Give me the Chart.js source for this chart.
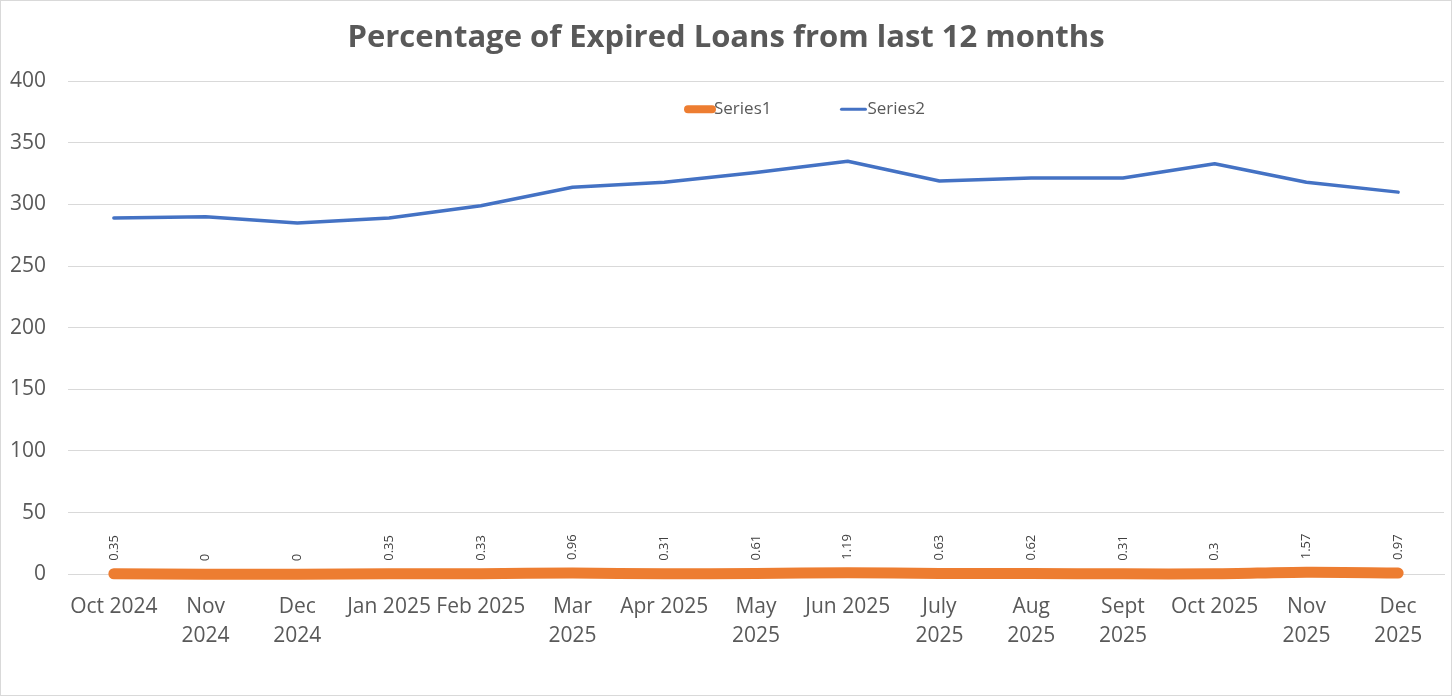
<!DOCTYPE html>
<html>
<head>
<meta charset="utf-8">
<script src="https://cdn.jsdelivr.net/npm/chart.js@4.4.1/dist/chart.umd.min.js"></script>
<style>
  html, body { margin: 0; padding: 0; background: #ffffff; }
  #contenedor { width: 1452px; height: 696px; }
</style>
</head>
<body>
<div id="contenedor"><canvas id="grafico1" width="1452" height="696"></canvas></div>
<script>
// datos
const meses = ['Oct 2024', ['Nov', '2024'], ['Dec', '2024'], 'Jan 2025', 'Feb 2025', ['Mar', '2025'], 'Apr 2025',
    ['May', '2025'], 'Jun 2025', ['July', '2025'], ['Aug', '2025'], ['Sept', '2025'], 'Oct 2025', ['Nov', '2025'], ['Dec', '2025']];
const serie1 = [0.35, 0, 0, 0.35, 0.33, 0.96, 0.31, 0.61, 1.19, 0.63, 0.62, 0.31, 0.3, 1.57, 0.97];
const serie2 = [289, 290, 285, 289, 299, 314, 318, 326, 335, 319, 321.5, 321.5, 333, 318, 310];
const ticksY = [0, 50, 100, 150, 200, 250, 300, 350, 400];

const fuente = "'Open Sans', 'Liberation Sans', sans-serif";
const gris = '#595959';

// marco gris alrededor
const marco = {
    id: 'marco',
    beforeDraw(chart) {
        const ctx = chart.ctx;
        ctx.save();
        ctx.fillStyle = '#ffffff';
        ctx.fillRect(0, 0, chart.width, chart.height);
        ctx.strokeStyle = '#d9d9d9';
        ctx.lineWidth = 1;
        ctx.strokeRect(0.5, 0.5, chart.width - 1, chart.height - 1);
        ctx.restore();
    }
};

// etiquetas verticales de la serie 1
const etiquetas = {
    id: 'etiquetas',
    afterDatasetsDraw(chart) {
        const ctx = chart.ctx;
        const meta = chart.getDatasetMeta(0);
        ctx.save();
        ctx.font = '13px ' + fuente;
        ctx.fillStyle = '#404040';
        ctx.textAlign = 'left';
        ctx.textBaseline = 'middle';
        meta.data.forEach((p, i) => {
            ctx.save();
            ctx.translate(p.x, p.y - 13);
            ctx.rotate(-Math.PI / 2);
            ctx.fillText(String(serie1[i]), 0, 0);
            ctx.restore();
        });
        ctx.restore();
    }
};

// leyenda dentro del area del grafico
const leyenda = {
    id: 'leyenda',
    afterDraw(chart) {
        const ctx = chart.ctx;
        const area = chart.chartArea;
        ctx.save();
        ctx.font = '17px ' + fuente;
        ctx.textBaseline = 'middle';
        ctx.textAlign = 'left';
        const y = area.top + 28;
        let x = area.left + 616;
        chart.data.datasets.forEach((ds) => {
            ctx.strokeStyle = ds.borderColor;
            ctx.lineWidth = ds.id === 's1' ? 8 : 3;
            ctx.lineCap = 'round';
            ctx.beginPath();
            ctx.moveTo(x + 4, y);
            ctx.lineTo(x + 28, y);
            ctx.stroke();
            ctx.fillStyle = gris;
            ctx.fillText(ds.label, x + 30, y);
            x += 30 + ctx.measureText(ds.label).width + 66;
        });
        ctx.restore();
    }
};

new Chart(document.getElementById('grafico1').getContext('2d'), {
    type: 'line',
    data: {
        labels: meses,
        datasets: [{
            id: 's1',
            label: 'Series1',
            data: serie1,
            borderColor: '#ED7D31',
            backgroundColor: '#ED7D31',
            borderWidth: 11,
            borderCapStyle: 'round',
            borderJoinStyle: 'round',
            pointRadius: 0,
            tension: 0.3,
            clip: false
        }, {
            id: 's2',
            label: 'Series2',
            data: serie2,
            borderColor: '#4472C4',
            backgroundColor: '#4472C4',
            borderWidth: 3.5,
            borderCapStyle: 'round',
            borderJoinStyle: 'round',
            pointRadius: 0,
            tension: 0
        }]
    },
    options: {
        responsive: false,
        animation: false,
        devicePixelRatio: 1,
        layout: { padding: { left: 8, right: 8, top: 0, bottom: 35 } },
        plugins: {
            legend: { display: false },
            tooltip: { enabled: false },
            title: {
                display: true,
                text: 'Percentage of Expired Loans from last 12 months',
                color: gris,
                font: { family: fuente, size: 31, weight: 'bold' },
                padding: { top: 20, bottom: 24 }
            }
        },
        scales: {
            x: {
                offset: true,
                grid: { display: false },
                border: { display: true, color: '#d9d9d9' },
                ticks: {
                    autoSkip: false,
                    maxRotation: 0,
                    minRotation: 0,
                    padding: 10,
                    color: gris,
                    font: { family: fuente, size: 21, lineHeight: 1.4 }
                }
            },
            y: {
                min: 0,
                max: 400,
                afterBuildTicks(scale) {
                    scale.ticks = ticksY.map(v => ({ value: v }));
                },
                afterFit(scale) {
                    scale.width = 60;
                },
                grid: { color: '#d9d9d9', drawTicks: false },
                border: { display: false },
                ticks: {
                    padding: 22,
                    color: gris,
                    font: { family: fuente, size: 21 }
                }
            }
        }
    },
    plugins: [marco, etiquetas, leyenda]
});
</script>
</body>
</html>
